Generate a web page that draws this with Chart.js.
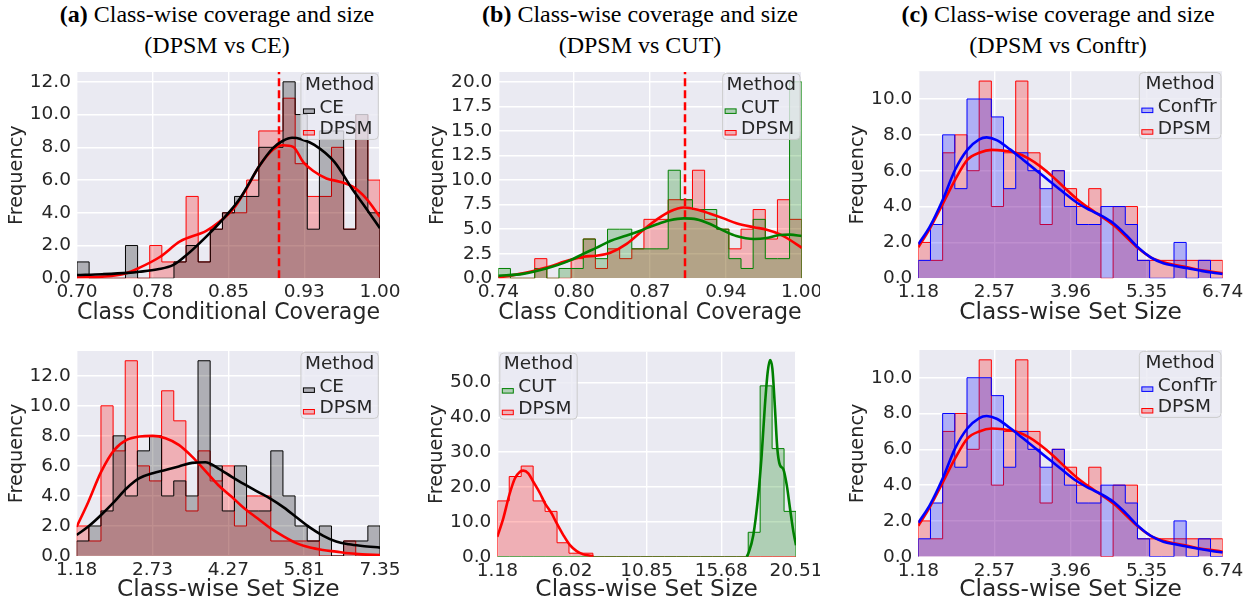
<!DOCTYPE html>
<html>
<head>
<meta charset="utf-8">
<script src="https://cdn.jsdelivr.net/npm/chart.js@4.4.0/dist/chart.umd.min.js"></script>
<style>
  body { margin: 0; background: #fff; width: 1251px; height: 606px; position: relative; overflow: hidden; }
  canvas { position: absolute; }
  .ttl { position: absolute; top: -1px; width: 420px; text-align: center; color: #000;
         font: 24px/31px "Liberation Serif", "Times New Roman", serif; white-space: nowrap; }
</style>
</head>
<body>
<div class="ttl" style="left:7px"><b>(a)</b> Class-wise coverage and size<br>(DPSM vs CE)</div>
<div class="ttl" style="left:430px"><b>(b)</b> Class-wise coverage and size<br>(DPSM vs CUT)</div>
<div class="ttl" style="left:848px"><b>(c)</b> Class-wise coverage and size<br>(DPSM vs Conftr)</div>

<canvas id="aTop" width="400" height="270" style="left:0px;top:60px"></canvas>
<canvas id="bTop" width="410" height="270" style="left:410px;top:60px"></canvas>
<canvas id="cTop" width="421" height="270" style="left:830px;top:60px"></canvas>
<canvas id="aBot" width="400" height="273" style="left:0px;top:333px"></canvas>
<canvas id="bBot" width="410" height="273" style="left:410px;top:333px"></canvas>
<canvas id="cBot" width="421" height="273" style="left:830px;top:333px"></canvas>

<script>
// ---- data ----
const target = 0.90;

// (a) coverage: CE vs DPSM, 25 bins over [0.70, 1.00]
const aTopRange = [0.70, 1.00];
const aTopCE   = [1,0,0,0,2,0,0,0,1,2,1,3,4,5,5,8,8,12,10,3,9,9,3,10,4];
const aTopDPSM = [0,0,0,0,0,0,2,1,1,5,1,3,4,4,6,9,9,11,7,5,5,8,3,10,6];
const aTopKdeCEx = [0.700,0.725,0.750,0.762,0.780,0.795,0.808,0.828,0.845,0.861,0.881,0.894,0.904,0.913,0.922,0.935,0.955,0.972,0.986,1.000];
const aTopKdeCEy = [0.20,0.25,0.33,0.40,0.55,0.80,1.40,2.55,3.65,4.85,6.90,7.95,8.40,8.58,8.50,8.15,7.10,5.50,4.30,3.05];
const aTopKdeDPx = [0.700,0.725,0.748,0.762,0.782,0.802,0.828,0.841,0.855,0.868,0.881,0.894,0.904,0.914,0.924,0.934,0.947,0.960,0.973,0.986,1.000];
const aTopKdeDPy = [0.05,0.10,0.30,0.65,1.30,2.25,2.90,3.45,4.25,5.50,6.90,7.85,8.13,8.03,7.10,6.55,6.10,5.90,5.60,4.90,3.75];
const aTopXLabels = ['0.70','0.78','0.85','0.93','1.00'];
const aTopYTicks = [0,2,4,6,8,10,12];

// (b) coverage: CUT vs DPSM, 25 bins over [0.74, 1.00]
const bTopRange = [0.74, 1.00];
const bTopCUT  = [1,0,0,1,0,1,1,4,2,5,5,3,3,3,11,8,7,7,5,2,1,6,2,2,20];
const bTopDPSM = [0,0,0,2,0,0,2,4,1,3,2,3,6,6,8,8,11,6,5,3,5,7,4,8,6];
const bTopKdeX = [0.740,0.761,0.781,0.801,0.813,0.824,0.836,0.850,0.864,0.876,0.887,0.899,0.910,0.921,0.933,0.944,0.959,0.970,0.981,0.990,1.000];
const bTopKdeCUTy = [0.25,0.45,1.00,1.80,2.50,3.10,3.80,4.35,4.95,5.50,5.90,6.10,6.00,5.55,4.85,4.30,4.00,4.10,4.40,4.45,4.30];
const bTopKdeDPy  = [0.10,0.50,1.10,1.85,2.20,2.30,2.60,3.50,4.90,6.00,6.80,7.20,7.00,6.60,6.10,5.60,5.20,4.95,4.50,3.90,3.10];
const bTopXLabels = ['0.74','0.80','0.87','0.94','1.00'];
const bTopYTicks = [0,2.5,5,7.5,10,12.5,15,17.5,20];

// (c) set size: ConfTr vs DPSM, 25 bins over [1.18, 6.74]
const cRange = [1.18, 6.74];
const cConfTr = [1,3,8,5,10,10,9,5,7,6,5,6,4,3,3,4,4,3,1,0,0,2,0,1,0];
const cDPSM   = [2,1,7,8,6,11,4,7,11,7,3,6,5,4,5,0,4,4,1,1,1,1,1,1,1];
const cKdeCTx = [1.18,1.393,1.625,1.85,2.075,2.294,2.428,2.611,2.855,3.098,3.342,3.585,3.829,4.085,4.316,4.529,4.743,4.974,5.199,5.424,5.656,5.869,6.094,6.326,6.539,6.74];
const cKdeCTy = [1.90,2.90,4.37,6.04,7.16,7.75,7.86,7.71,7.19,6.60,6.00,5.40,4.80,4.20,3.80,3.48,3.07,2.42,1.71,1.17,0.84,0.69,0.56,0.43,0.32,0.24];
const cKdeDPx = [1.18,1.393,1.625,1.85,2.075,2.294,2.52,2.733,2.964,3.19,3.415,3.634,3.86,4.085,4.304,4.529,4.755,4.974,5.199,5.424,5.656,5.869,6.094,6.326,6.539,6.74];
const cKdeDPy = [1.73,2.79,4.14,5.48,6.60,7.00,7.16,7.12,7.00,6.69,6.23,5.67,5.02,4.40,3.90,3.44,2.94,2.32,1.67,1.17,0.89,0.74,0.61,0.46,0.37,0.28];
const cXLabels = ['1.18','2.57','3.96','5.35','6.74'];
const cYTicks = [0,2,4,6,8,10];

// (a) set size: CE vs DPSM, 25 bins over [1.184, 7.352]
const aBotRange = [1.184, 7.352];
const aBotCE   = [1,2,3,8,4,7,8,4,5,4,13,6,3,6,3,3,7,4,2,1,2,0,1,1,2];
const aBotDPSM = [2,1,10,7,13,6,5,11,9,3,7,5,6,2,4,4,1,1,1,1,0,0,1,0,0];
const aBotKdeX = [1.184,1.42,1.68,1.95,2.2,2.46,2.73,2.99,3.26,3.53,3.8,4.06,4.33,4.59,4.86,5.13,5.4,5.66,5.93,6.19,6.46,6.72,6.99,7.352];
const aBotKdeCEy = [1.40,1.96,2.73,3.62,4.51,5.18,5.51,5.73,5.96,6.20,6.24,5.84,5.29,4.78,4.29,3.80,3.22,2.56,1.89,1.36,0.96,0.78,0.67,0.56];
const aBotKdeDPy = [1.95,3.60,5.60,7.07,7.73,7.96,8.00,7.84,7.40,6.62,5.67,4.73,3.96,3.18,2.51,1.84,1.29,0.84,0.56,0.40,0.29,0.18,0.11,0.07];
const aBotXLabels = ['1.18','2.73','4.27','5.81','7.35'];
const aBotYTicks = [0,2,4,6,8,10,12];

// (b) set size: CUT vs DPSM, 25 bins over [1.185, 20.51]
const bBotRange = [1.185, 20.51];
const bBotCUT  = [0,0,0,0,0,0,0,0,0,0,0,0,0,0,0,0,0,0,0,0,0,7,49,31,13];
const bBotDPSM = [16,23,26,16,13,4,1,1,0,0,0,0,0,0,0,0,0,0,0,0,0,0,0,0,0];
const bBotKdeDPx = [1.185,1.573,1.961,2.328,2.652,2.867,3.19,3.514,3.946,4.269,4.7,5.024,5.456,5.887,6.318,6.75,7.18,7.4];
const bBotKdeDPy = [5.7,11.0,17.7,22.5,24.4,24.7,23.9,21.5,18.2,15.3,12.4,9.6,6.2,3.3,1.6,0.67,0.3,0.1];
const bBotKdeCUTx = [17.32,17.43,17.75,18.07,18.29,18.5,18.68,18.83,18.98,19.15,19.3,19.47,19.69,19.91,20.12,20.34,20.51];
const bBotKdeCUTy = [0,1.0,6.2,17.7,29.2,43.5,53,56.4,54,42.5,31.1,26.3,25.1,20.6,13.9,7.2,3.3];
const bBotXLabels = ['1.18','6.02','10.85','15.68','20.51'];
const bBotYTicks = [0,10,20,30,40,50];

// ---- styling ----
const FONT = '"DejaVu Sans", Verdana, sans-serif';
const TEXT = '#262626';
const COL = {
  CE:     { line: '#000000', fill: 'rgba(0,0,0,0.25)' },
  DPSM:   { line: '#ff0000', fill: 'rgba(255,0,0,0.25)' },
  CUT:    { line: '#008000', fill: 'rgba(0,128,0,0.25)' },
  ConfTr: { line: '#0000ff', fill: 'rgba(0,0,255,0.25)' }
};

function stepPoints(range, counts) {
  const [lo, hi] = range;
  const w = (hi - lo) / counts.length;
  const pts = [{ x: lo, y: 0 }];
  counts.forEach((c, i) => pts.push({ x: lo + i * w, y: c }));
  pts.push({ x: hi, y: counts[counts.length - 1] });
  pts.push({ x: hi, y: 0 });
  return pts;
}

function histSet(label, range, counts, order, rank) {
  return {
    label, data: stepPoints(range, counts), stepped: true, fill: 'origin',
    borderColor: COL[label].line, backgroundColor: COL[label].fill,
    borderWidth: 1, pointRadius: 0, order, legendRank: rank
  };
}

function kdeSet(label, xs, ys, order) {
  return {
    label: label + ' kde', data: xs.map((x, i) => ({ x, y: ys[i] })),
    borderColor: COL[label].line, borderWidth: 2.6, pointRadius: 0, fill: false,
    cubicInterpolationMode: 'monotone', order
  };
}

function targetSet(yMax) {
  return {
    label: 'target', data: [{ x: target, y: 0 }, { x: target, y: yMax }],
    borderColor: '#ff0000', borderWidth: 2.5, borderDash: [8, 4], pointRadius: 0, fill: false, order: 2
  };
}

const bgPlugin = {
  id: 'panelBg',
  beforeDraw(chart) {
    const { ctx, chartArea: a } = chart;
    ctx.save();
    ctx.fillStyle = '#EAEAF2';
    ctx.fillRect(a.left, a.top, a.right - a.left, a.bottom - a.top);
    ctx.restore();
  }
};

const boxLegend = {
  id: 'boxLegend',
  afterDraw(chart, args, opts) {
    const { ctx, chartArea: a } = chart;
    const items = chart.data.datasets.filter(d => d.legendRank !== undefined)
      .sort((p, q) => p.legendRank - q.legendRank);
    ctx.save();
    ctx.font = '18.5px ' + FONT;
    const textW = Math.max(...items.map(d => ctx.measureText(d.label).width));
    const titleW = ctx.measureText(opts.title).width;
    const w = Math.max(2.5 + 11 + 5 + textW + 4.5, titleW + 8);
    const h = 66;
    const x = opts.side === 'left' ? a.left + 2.5 : a.right - 1.7 - w;
    const y = a.top + 1.4;
    ctx.beginPath();
    ctx.roundRect(x, y, w, h, 4);
    ctx.fillStyle = 'rgba(234,234,242,0.8)';
    ctx.fill();
    ctx.strokeStyle = '#cccccc';
    ctx.lineWidth = 1;
    ctx.stroke();
    ctx.fillStyle = TEXT;
    ctx.textBaseline = 'middle';
    ctx.textAlign = 'center';
    ctx.fillText(opts.title, x + w / 2, y + 11.5);
    ctx.textAlign = 'left';
    items.forEach((d, i) => {
      const cy = y + 34.5 + i * 21.6;
      ctx.fillStyle = d.backgroundColor;
      ctx.fillRect(x + 2.5, cy + 1, 11, 4.5);
      ctx.strokeStyle = d.borderColor;
      ctx.lineWidth = 1;
      ctx.strokeRect(x + 2.5, cy + 1, 11, 4.5);
      ctx.fillStyle = TEXT;
      ctx.fillText(d.label, x + 18.5, cy);
    });
    ctx.restore();
  }
};

// p: canvas rect, plot rect (page coords), axes
function panel(id, p) {
  const cv = document.getElementById(id);
  const cL = parseFloat(cv.style.left), cT = parseFloat(cv.style.top);
  const cW = cv.width, cH = cv.height;
  const [lo, hi] = p.range;
  const xTickVals = p.xLabels.map((_, i) => lo + i * (hi - lo) / (p.xLabels.length - 1));
  new Chart(cv, {
    type: 'line',
    data: { datasets: p.datasets },
    options: {
      animation: false, responsive: false, events: [],
      layout: { padding: { left: 0, top: p.plot.T - cT, right: cL + cW - p.plot.R, bottom: 0 } },
      plugins: {
        legend: { display: false }, tooltip: { enabled: false },
        boxLegend: { title: 'Method', side: p.legendSide || 'right' }
      },
      scales: {
        x: {
          type: 'linear', min: lo, max: hi,
          afterBuildTicks: s => { s.ticks = xTickVals.map(v => ({ value: v })); },
          afterFit: s => { s.height = cT + cH - p.plot.B; s.paddingLeft = 0; s.paddingRight = 0; },
          ticks: { autoSkip: false, maxRotation: 0, padding: 3, color: TEXT,
                   font: { family: FONT, size: 18.5 }, callback: (v, i) => p.xLabels[i] },
          grid: { color: '#ffffff', lineWidth: 1.4, drawTicks: false },
          border: { display: false },
          title: { display: true, text: p.xTitle, color: TEXT, font: { family: FONT, size: 23.3 },
                   padding: { top: 0, bottom: cT + cH - p.xTitleY - 14 } }
        },
        y: {
          type: 'linear', min: 0, max: p.yMax,
          afterBuildTicks: s => { s.ticks = p.yTicks.map(v => ({ value: v })); },
          afterFit: s => { s.width = p.plot.L - cL; s.paddingTop = 0; s.paddingBottom = 0; },
          ticks: { autoSkip: false, padding: 6, color: TEXT, font: { family: FONT, size: 18.5 },
                   callback: v => v.toFixed(1) },
          grid: { color: '#ffffff', lineWidth: 1.4, drawTicks: false },
          border: { display: false },
          title: { display: true, text: 'Frequency', color: TEXT, font: { family: FONT, size: 19.3 },
                   padding: { top: p.plot.L - 60 - cL - 11.6, bottom: 0 } }
        }
      }
    },
    plugins: [bgPlugin, boxLegend]
  });
}

panel('aTop', {
  range: aTopRange, yMax: 12.6, yTicks: aTopYTicks, xLabels: aTopXLabels,
  xTitle: 'Class Conditional Coverage', xTitleY: 313,
  plot: { L: 77, R: 380, T: 72, B: 278.3 },
  datasets: [
    histSet('DPSM', aTopRange, aTopDPSM, 4, 1),
    histSet('CE', aTopRange, aTopCE, 3, 0),
    targetSet(12.6),
    kdeSet('DPSM', aTopKdeDPx, aTopKdeDPy, 1),
    kdeSet('CE', aTopKdeCEx, aTopKdeCEy, 0)
  ]
});

panel('bTop', {
  range: bTopRange, yMax: 21, yTicks: bTopYTicks, xLabels: bTopXLabels,
  xTitle: 'Class Conditional Coverage', xTitleY: 313,
  plot: { L: 498.3, R: 801.7, T: 72, B: 278.3 },
  datasets: [
    histSet('DPSM', bTopRange, bTopDPSM, 4, 1),
    histSet('CUT', bTopRange, bTopCUT, 3, 0),
    targetSet(21),
    kdeSet('DPSM', bTopKdeX, bTopKdeDPy, 1),
    kdeSet('CUT', bTopKdeX, bTopKdeCUTy, 0)
  ]
});

panel('cTop', {
  range: cRange, yMax: 11.55, yTicks: cYTicks, xLabels: cXLabels,
  xTitle: 'Class-wise Set Size', xTitleY: 313,
  plot: { L: 918.3, R: 1222.7, T: 71.2, B: 278.3 },
  datasets: [
    histSet('DPSM', cRange, cDPSM, 4, 1),
    histSet('ConfTr', cRange, cConfTr, 3, 0),
    kdeSet('DPSM', cKdeDPx, cKdeDPy, 1),
    kdeSet('ConfTr', cKdeCTx, cKdeCTy, 0)
  ]
});

panel('aBot', {
  range: aBotRange, yMax: 13.65, yTicks: aBotYTicks, xLabels: aBotXLabels,
  xTitle: 'Class-wise Set Size', xTitleY: 590,
  plot: { L: 76.7, R: 380, T: 351, B: 556 },
  datasets: [
    histSet('DPSM', aBotRange, aBotDPSM, 4, 1),
    histSet('CE', aBotRange, aBotCE, 3, 0),
    kdeSet('DPSM', aBotKdeX, aBotKdeDPy, 1),
    kdeSet('CE', aBotKdeX, aBotKdeCEy, 0)
  ]
});

panel('bBot', {
  range: bBotRange, yMax: 58.8, yTicks: bBotYTicks, xLabels: bBotXLabels, legendSide: 'left',
  xTitle: 'Class-wise Set Size', xTitleY: 590,
  plot: { L: 497.3, R: 796, T: 351.7, B: 556.7 },
  datasets: [
    histSet('DPSM', bBotRange, bBotDPSM, 4, 1),
    histSet('CUT', bBotRange, bBotCUT, 3, 0),
    kdeSet('DPSM', bBotKdeDPx, bBotKdeDPy, 1),
    kdeSet('CUT', bBotKdeCUTx, bBotKdeCUTy, 0)
  ]
});

panel('cBot', {
  range: cRange, yMax: 11.55, yTicks: cYTicks, xLabels: cXLabels,
  xTitle: 'Class-wise Set Size', xTitleY: 590,
  plot: { L: 918.3, R: 1222.7, T: 350, B: 556.7 },
  datasets: [
    histSet('DPSM', cRange, cDPSM, 4, 1),
    histSet('ConfTr', cRange, cConfTr, 3, 0),
    kdeSet('DPSM', cKdeDPx, cKdeDPy, 1),
    kdeSet('ConfTr', cKdeCTx, cKdeCTy, 0)
  ]
});
</script>
</body>
</html>
